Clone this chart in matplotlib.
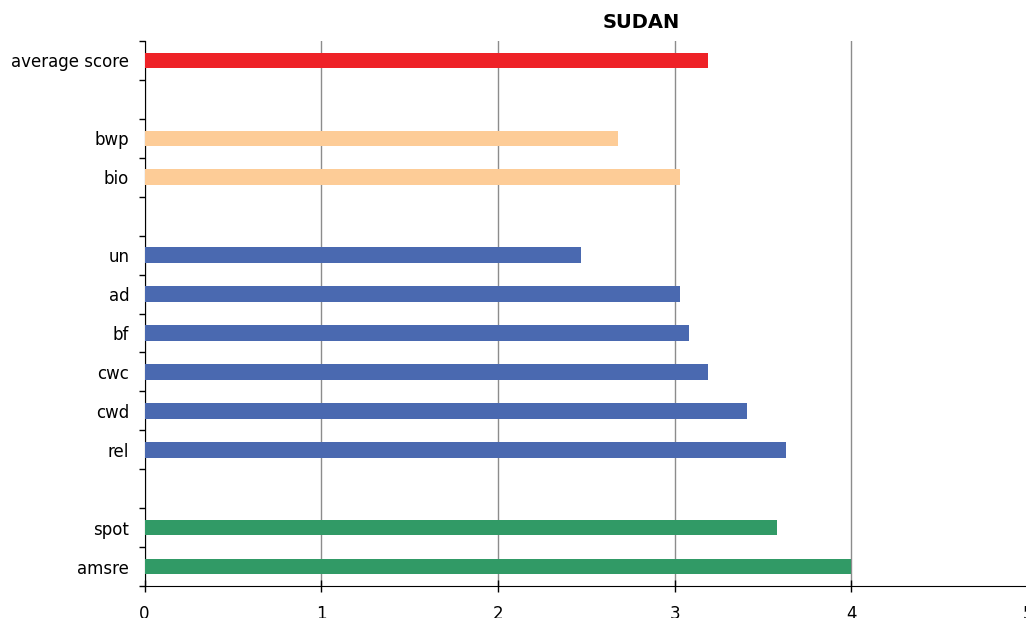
import numpy as np
import matplotlib
matplotlib.use("Agg")
import matplotlib.pyplot as plt

# Data, bottom to top; None marks an empty slot between groups.
categories = ["amsre", "spot", "", "rel", "cwd", "cwc", "bf", "ad", "un",
              "", "bio", "bwp", "", "average score"]
scores = [4.0, 3.58, None, 3.63, 3.41, 3.19, 3.08, 3.03, 2.47,
          None, 3.03, 2.68, None, 3.19]
groups = ["sat", "sat", None, "blue", "blue", "blue", "blue", "blue", "blue",
          None, "peach", "peach", None, "avg"]
group_colors = {"sat": "#319A66", "blue": "#4A69B0", "peach": "#FDCC97", "avg": "#EE2227"}
x_ticks = [0, 1, 2, 3, 4, 5]

fig = plt.figure(figsize=(10.26, 6.18), dpi=100)
ax = fig.add_axes([144.5 / 1026, 32 / 618, 883.5 / 1026, 545 / 618])

pos = np.arange(len(categories))
for p, v, g in zip(pos, scores, groups):
    if v is None:
        continue
    ax.barh(p, v, height=0.4, color=group_colors[g], zorder=3)

ax.set_xlim(0, 5)
ax.set_ylim(-0.5, len(categories) - 0.5)

ax.set_xticks(x_ticks)
ax.set_xticklabels([str(t) for t in x_ticks], fontsize=12)
ax.tick_params(axis="x", direction="inout", length=8, width=1, pad=10)
ax.xaxis.grid(True, color="#8c8c8c", linewidth=1, zorder=0)

# category boundaries get tick marks, centres carry the labels
ax.set_yticks(np.arange(-0.5, len(categories), 1.0))
ax.set_yticklabels([])
ax.tick_params(axis="y", which="major", direction="out", length=4, width=1)
ax.set_yticks(pos, minor=True)
ax.set_yticklabels(categories, minor=True, fontsize=12)
ax.tick_params(axis="y", which="minor", length=0, pad=11)

for side in ["top", "right"]:
    ax.spines[side].set_visible(False)
ax.spines["left"].set_color("black")
ax.spines["bottom"].set_color("black")

fig.text(641 / 1026, 1 - 22 / 618, "SUDAN", ha="center", va="center",
         fontsize=14, fontweight="bold")

fig.savefig("out.png", dpi=100)
